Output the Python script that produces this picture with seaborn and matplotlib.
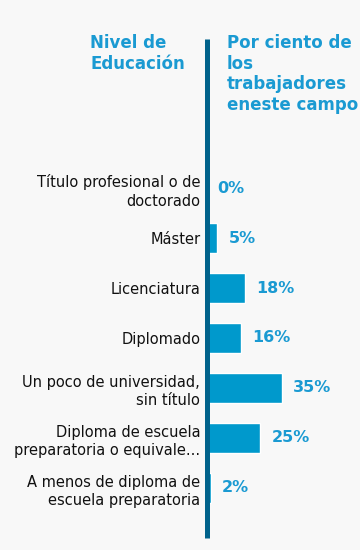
import pandas as pd
import seaborn as sns
import matplotlib.pyplot as plt

# datos del gráfico
categorias = ['Título profesional o de\ndoctorado', 'Máster', 'Licenciatura', 'Diplomado',
              'Un poco de universidad,\nsin título', 'Diploma de escuela\npreparatoria o equivale...',
              'A menos de diploma de\nescuela preparatoria']
porcentajes = [0, 5, 18, 16, 35, 25, 2]
etiquetas = ['0%', '5%', '18%', '16%', '35%', '25%', '2%']

df = pd.DataFrame({'nivel': categorias, 'pct': porcentajes})

fondo = '#f8f8f8'
azul = '#0099cc'
azul_texto = '#1a9ad2'
linea = '#00628b'

sns.set_style('white')
plt.rcParams['font.family'] = ['DejaVu Sans']

fig = plt.figure(figsize=(3.6, 5.5), dpi=100)
fig.patch.set_facecolor(fondo)
ax = fig.add_axes([206.5 / 360, 12 / 550, 153.5 / 360, 499 / 550])
ax.set_facecolor(fondo)

sns.barplot(data=df, x='pct', y='nivel', orient='h', color=azul, width=0.6,
            saturation=1, ax=ax)

ax.set_xlim(0, 153.5 / 2.15)
ax.set_ylim(7.0, -2.98)
ax.set_xlabel('')
ax.set_ylabel('')
ax.set_xticks([])
ax.tick_params(axis='y', length=0, pad=4.5, labelsize=10.5, labelcolor='#111111')
plt.setp(ax.get_yticklabels(), linespacing=1.3)

for s in ['top', 'right', 'bottom']:
    ax.spines[s].set_visible(False)
ax.spines['left'].set_color(linea)
ax.spines['left'].set_linewidth(3.6)
ax.spines['left'].set_capstyle('butt')
ax.spines['left'].set_zorder(5)

# etiquetas de valor
for i, (v, t) in enumerate(zip(porcentajes, etiquetas)):
    ax.annotate(t, (v, i), xytext=(8, 0), textcoords='offset points',
                va='center', ha='left', fontsize=11.5, fontweight='bold',
                color=azul_texto)

# encabezados
fig.text(90 / 360, 1 - 34 / 550, 'Nivel de\nEducación', ha='left', va='top',
         fontsize=12, fontweight='bold', color=azul_texto, linespacing=1.18)
fig.text(227 / 360, 1 - 34 / 550, 'Por ciento de\nlos\ntrabajadores\neneste campo',
         ha='left', va='top', fontsize=12, fontweight='bold', color=azul_texto,
         linespacing=1.18)

plt.savefig('out.png', dpi=100, facecolor=fondo)
